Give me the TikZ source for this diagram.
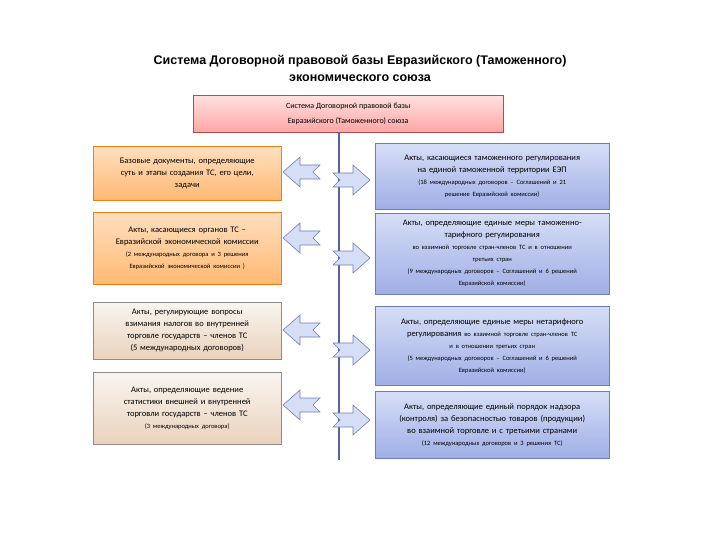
\documentclass[tikz,border=0pt]{standalone}
\usepackage{fontspec}
\setmainfont{Carlito}
\newfontfamily\titlefont{Liberation Sans}
\newcommand\smtxt{\fontsize{6.5}{10}\selectfont}
\definecolor{bt}{RGB}{214,222,246}
\definecolor{bb}{RGB}{160,174,230}
\definecolor{bd}{RGB}{110,125,185}
\definecolor{ln}{RGB}{80,100,150}
\begin{document}
\begin{tikzpicture}[x=1pt,y=-1pt,
 bx/.style={draw, inner sep=1pt, align=center, anchor=north west, font=\fontsize{8.5}{12}\selectfont},
 org/.style={bx, draw=orange!70!brown, top color=orange!25, bottom color=orange!55},
 brn/.style={bx, draw=black!45, top color=brown!8, bottom color=brown!35},
 blu/.style={bx, draw=bd, top color=bt, bottom color=bb},
 arr/.style={draw=bd, fill=bt, line width=0.6pt}]
\useasboundingbox (0,0) rectangle (720,540);
\node[font=\titlefont\bfseries\fontsize{12.5}{17}\selectfont, align=center] (title) at (360,68) {Система Договорной правовой базы Евразийского (Таможенного)\\экономического союза};
\node[bx, draw=red!40!gray, top color=red!12, bottom color=red!35, minimum width=310, minimum height=37, font=\fontsize{8}{15}\selectfont] (top) at (193,95) {Система Договорной правовой базы\\Евразийского (Таможенного) союза};
\draw[ln, line width=1.5pt] (339,132) -- (339,460);
\tikzset{lbox/.style={text width=186, minimum height=#1}}
\node[org, lbox=54] (l1) at (93,146) {Базовые документы, определяющие\\суть и этапы создания ТС, его цели,\\задачи};
\node[org, lbox=72] (l2) at (93,212) {Акты, касающиеся органов ТС --\\Евразийской экономической комиссии\\{\smtxt(2 международных договора и 3 решения}\\{\smtxt Евразийской экономической комиссии )}};
\node[brn, lbox=57] (l3) at (93,302) {Акты, регулирующие вопросы\\взимания налогов во внутренней\\торговле государств -- членов ТС\\(5 международных договоров)};
\node[brn, lbox=72] (l4) at (93,372) {Акты, определяющие ведение\\статистики внешней и внутренней\\торговли государств -- членов ТС\\{\smtxt(3 международных договора)}};
\tikzset{rbox/.style={text width=232, minimum height=#1}}
\node[blu, rbox=66] (r1) at (375,143) {Акты, касающиеся таможенного регулирования\\на единой таможенной территории ЕЭП\\{\smtxt(18 международных договоров -- Соглашений и 21}\\{\smtxt решение Евразийской комиссии)}};
\node[blu, rbox=81] (r2) at (375,213) {Акты, определяющие единые меры таможенно-\\тарифного регулирования\\{\smtxt во взаимной торговле стран-членов ТС и в отношении}\\{\smtxt третьих стран}\\{\smtxt(9 международных договоров -- Соглашений и 6 решений}\\{\smtxt Евразийской комиссии)}};
\node[blu, rbox=79] (r3) at (375,306) {Акты, определяющие единые меры нетарифного\\регулирования {\smtxt во взаимной торговле стран-членов ТС}\\{\smtxt и в отношении третьих стран}\\{\smtxt(5 международных договоров -- Соглашений и 6 решений}\\{\smtxt Евразийской комиссии)}};
\node[blu, rbox=67] (r4) at (375,391) {Акты, определяющие единый порядок надзора\\(контроля) за безопасностью товаров (продукции)\\во взаимной торговле и с третьими странами\\{\smtxt(12 международных договоров и 3 решения ТС)}};
\foreach \y in {172,238,330,405}
 \draw[arr] (283,\y) -- (300,\y-15) -- (300,\y-7) -- (320,\y-7) -- (313,\y) -- (320,\y+7) -- (300,\y+7) -- (300,\y+15) -- cycle;
\foreach \y in {180,258,350,420}
 \draw[arr] (370,\y) -- (353,\y-15) -- (353,\y-7) -- (333,\y-7) -- (340,\y) -- (333,\y+7) -- (353,\y+7) -- (353,\y+15) -- cycle;
\end{tikzpicture}
\end{document}
